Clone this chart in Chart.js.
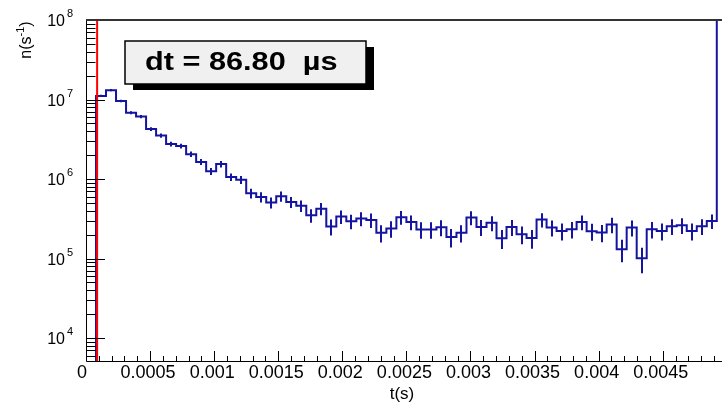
<!DOCTYPE html>
<html>
<head>
<meta charset="utf-8">
<script src="https://cdn.jsdelivr.net/npm/chart.js@4.4.1/dist/chart.umd.min.js"></script>
<style>
  html, body { margin: 0; padding: 0; background: #fff; overflow: hidden; }
  #wrap { width: 722px; height: 405px; overflow: hidden; }
</style>
</head>
<body>
<div id="wrap"><canvas id="hist" width="740" height="405"></canvas></div>
<script>
// decay-time histogram: 64 bins from 0 to 5 ms, rate in s^-1
const tMin = 0;
const tMax = 0.005;
const nBins = 64;
const rates = [
  0, 1.11e7, 1.31e7, 9.6e6, 6.8e6, 6.1e6, 4.26e6, 3.52e6,
  2.75e6, 2.60e6, 2.05e6, 1.64e6, 1.25e6, 1.54e6, 1.06e6, 9.8e5,
  6.6e5, 5.94e5, 5.06e5, 6.06e5, 5.14e5, 4.60e5, 3.49e5, 4.24e5,
  2.52e5, 3.37e5, 2.95e5, 3.18e5, 3.05e5, 2.11e5, 2.38e5, 3.30e5,
  2.88e5, 2.31e5, 2.31e5, 2.47e5, 1.86e5, 2.11e5, 3.27e5, 2.49e5,
  2.81e5, 1.80e5, 2.49e5, 2.02e5, 1.81e5, 3.09e5, 2.45e5, 2.22e5,
  2.33e5, 2.88e5, 2.20e5, 2.12e5, 2.67e5, 1.31e5, 2.45e5, 1.01e5,
  2.33e5, 2.22e5, 2.54e5, 2.62e5, 2.22e5, 2.54e5, 2.96e5, 2.5e8
];
const dtCut = 86.80e-6;
const xTicks = [0, 0.0005, 0.001, 0.0015, 0.002, 0.0025, 0.003, 0.0035, 0.004, 0.0045];
const xTickLabels = ["0", "0.0005", "0.001", "0.0015", "0.002", "0.0025", "0.003", "0.0035", "0.004", "0.0045"];
const yDecades = [4, 5, 6, 7, 8];
const yMin = 5140;
const yMax = 1e8;

const binWidth = (tMax - tMin) / nBins;
const histColor = "#1414a0";

// step outline: one point per bin left edge, plus the closing edge
const points = rates.map((r, i) => ({ x: tMin + i * binWidth, y: r > 0 ? r : 1 }));
points.push({ x: tMax, y: points[points.length - 1].y });

const errorBars = {
  id: "errorBars",
  afterDatasetsDraw(chart) {
    const { ctx, chartArea, scales } = chart;
    ctx.save();
    ctx.beginPath();
    ctx.rect(chartArea.left, chartArea.top, chartArea.right - chartArea.left, chartArea.bottom - chartArea.top);
    ctx.clip();
    ctx.strokeStyle = histColor;
    ctx.lineWidth = 2;
    rates.forEach((r, i) => {
      if (r <= 0) return;
      // poisson error on the counts in the bin
      const err = Math.sqrt(r * binWidth) / binWidth;
      const x = Math.round(scales.x.getPixelForValue(tMin + (i + 0.5) * binWidth));
      const y1 = scales.y.getPixelForValue(r + err);
      const y2 = scales.y.getPixelForValue(Math.max(r - err, 1));
      ctx.beginPath();
      ctx.moveTo(x, y1);
      ctx.lineTo(x, y2);
      ctx.stroke();
    });
    // cut marker at dt
    const xr = scales.x.getPixelForValue(dtCut);
    ctx.strokeStyle = "#ff0000";
    ctx.beginPath();
    ctx.moveTo(xr, chartArea.top);
    ctx.lineTo(xr, chartArea.bottom);
    ctx.stroke();
    ctx.restore();
  }
};

const frameAxes = {
  id: "frameAxes",
  afterDraw(chart) {
    const { ctx, chartArea, scales } = chart;
    const L = chartArea.left, R = chartArea.right, T = chartArea.top, B = chartArea.bottom;
    ctx.save();
    ctx.strokeStyle = "#000";
    ctx.lineWidth = 1;
    // frame
    ctx.beginPath();
    ctx.moveTo(L + 0.5, T);
    ctx.lineTo(L + 0.5, B + 0.5);
    ctx.lineTo(R, B + 0.5);
    ctx.stroke();
    ctx.strokeStyle = "#333";
    ctx.lineWidth = 2;
    ctx.beginPath();
    ctx.moveTo(L, T);
    ctx.lineTo(R, T);
    ctx.stroke();

    // x ticks, pointing into the frame
    ctx.strokeStyle = "#000";
    ctx.lineWidth = 1;
    ctx.beginPath();
    for (let k = 0; k <= 50; k++) {
      const x = Math.round(scales.x.getPixelForValue(k * 0.0001)) + 0.5;
      const len = k % 5 === 0 ? 10 : 5;
      ctx.moveTo(x, B);
      ctx.lineTo(x, B - len);
    }
    // y ticks: decades and 2..9 minors
    for (let e = 3; e <= 7; e++) {
      for (let m = 1; m <= 9; m++) {
        const v = m * Math.pow(10, e);
        if (v < yMin || v > yMax) continue;
        const y = Math.round(scales.y.getPixelForValue(v)) + 0.5;
        const len = m === 1 ? 19 : 9.5;
        ctx.moveTo(L, y);
        ctx.lineTo(L + len, y);
      }
    }
    ctx.stroke();

    // x tick labels
    ctx.fillStyle = "#000";
    ctx.font = "18px 'Liberation Sans', Arial, sans-serif";
    ctx.textAlign = "center";
    ctx.textBaseline = "middle";
    xTicks.forEach((v, i) => {
      const x = scales.x.getPixelForValue(v) - (i === 0 ? 4 : 2);
      ctx.fillText(xTickLabels[i], x, 373);
    });

    // y tick labels 10^n
    yDecades.forEach(e => {
      const y = scales.y.getPixelForValue(Math.pow(10, e));
      ctx.font = "16px 'Liberation Sans', Arial, sans-serif";
      ctx.textAlign = "right";
      ctx.textBaseline = "middle";
      ctx.fillText("10", 65, y + 2);
      ctx.font = "11px 'Liberation Sans', Arial, sans-serif";
      ctx.textAlign = "left";
      ctx.fillText(String(e), 67, y - 6);
    });

    // axis titles
    ctx.font = "17px 'Liberation Sans', Arial, sans-serif";
    ctx.textAlign = "center";
    ctx.textBaseline = "middle";
    ctx.fillText("t(s)", 402, 394);

    ctx.save();
    ctx.translate(26, 40);
    ctx.rotate(-Math.PI / 2);
    ctx.textBaseline = "alphabetic";
    ctx.textAlign = "left";
    const big = "16px 'Liberation Sans', Arial, sans-serif";
    const small = "11px 'Liberation Sans', Arial, sans-serif";
    ctx.font = big;
    const w1 = ctx.measureText("n(s").width;
    const w3 = ctx.measureText(")").width;
    ctx.font = small;
    const w2 = ctx.measureText("-1").width;
    let x0 = -(w1 + w2 + w3) / 2;
    ctx.font = big;
    ctx.fillText("n(s", x0, 5);
    ctx.font = small;
    ctx.fillText("-1", x0 + w1, -2);
    ctx.font = big;
    ctx.fillText(")", x0 + w1 + w2, 5);
    ctx.restore();

    // dt label box with drop shadow
    ctx.fillStyle = "#000";
    ctx.fillRect(133, 47, 241, 43);
    ctx.fillStyle = "#f0f0f0";
    ctx.fillRect(125, 41, 241, 43);
    ctx.strokeStyle = "#000";
    ctx.lineWidth = 1.5;
    ctx.strokeRect(125, 41, 241, 43);
    ctx.fillStyle = "#000";
    ctx.font = "bold 26px 'Liberation Sans', Arial, sans-serif";
    ctx.textAlign = "left";
    ctx.textBaseline = "middle";
    ctx.save();
    ctx.translate(145, 63);
    ctx.scale(1.18, 1);
    ctx.fillText("dt = 86.80  \u00b5s", 0, 0);
    ctx.restore();
    ctx.restore();
  }
};

new Chart(document.getElementById("hist"), {
  type: "line",
  data: {
    datasets: [{
      data: points,
      stepped: "before",
      borderColor: histColor,
      borderWidth: 2,
      pointRadius: 0,
      fill: false,
      tension: 0
    }]
  },
  options: {
    responsive: false,
    animation: false,
    devicePixelRatio: 1,
    layout: { padding: { left: 0, top: 20, right: 740 - 726.8, bottom: 0 } },
    plugins: { legend: { display: false }, tooltip: { enabled: false } },
    scales: {
      x: {
        type: "linear",
        min: tMin,
        max: tMax,
        ticks: { display: false },
        grid: { display: false },
        border: { display: false },
        afterFit(s) { s.height = 44; s.paddingLeft = 0; s.paddingRight = 0; }
      },
      y: {
        type: "logarithmic",
        min: yMin,
        max: yMax,
        ticks: { display: false },
        grid: { display: false },
        border: { display: false },
        afterFit(s) { s.width = 86; s.paddingTop = 0; s.paddingBottom = 0; }
      }
    }
  },
  plugins: [errorBars, frameAxes]
});
</script>
</body>
</html>
